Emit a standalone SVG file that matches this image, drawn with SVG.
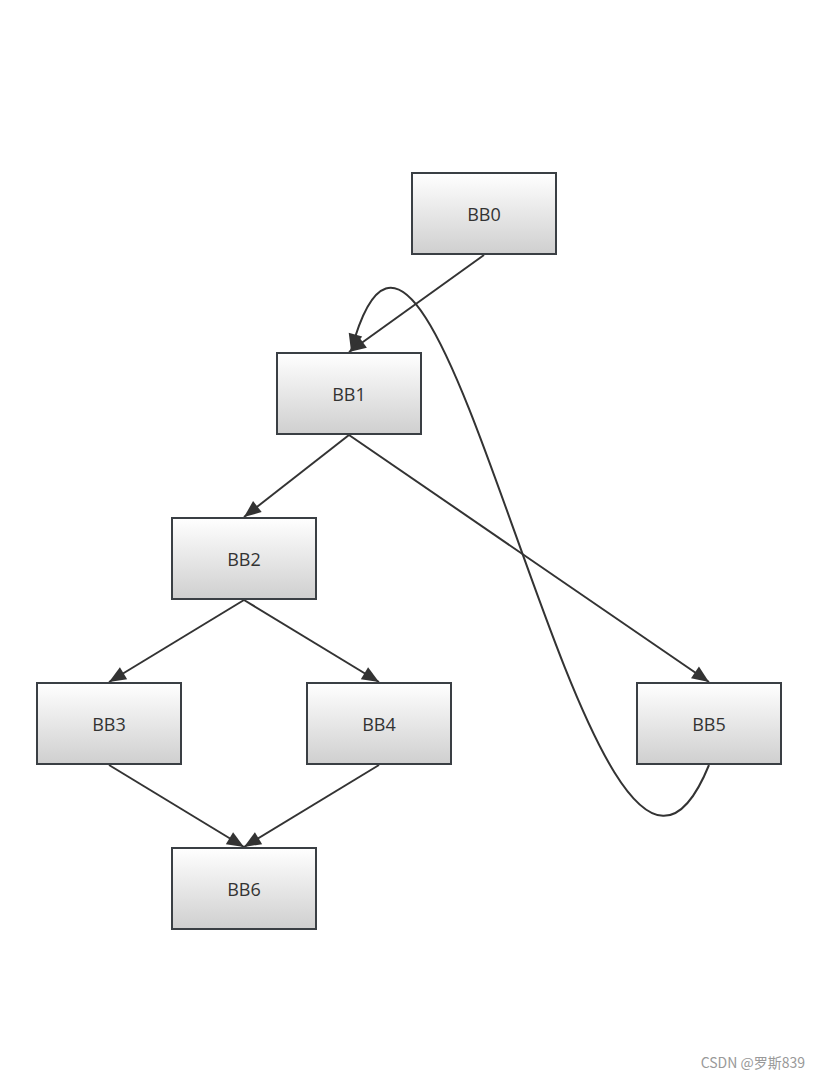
<svg xmlns="http://www.w3.org/2000/svg" width="819" height="1080" viewBox="0 0 819 1080">
<style>
.box{fill:url(#g);stroke:#3a3f44;stroke-width:2}
.lbl{font-family:"Open Sans","Noto Sans",sans-serif;font-size:18px;fill:#333;text-anchor:middle;dominant-baseline:central}
.e{fill:none;stroke:#333;stroke-width:2;marker-end:url(#a)}
</style>
<defs>
<linearGradient id="g" x1="0" y1="0" x2="0" y2="1"><stop offset="0" stop-color="#ffffff"/><stop offset="1" stop-color="#cfcfcf"/></linearGradient>
<marker id="a" markerUnits="userSpaceOnUse" markerWidth="20" markerHeight="20" refX="0" refY="0" orient="auto" style="overflow:visible"><path d="M-17,-7 L0,0 L-17,7 z" fill="#333"/></marker>
</defs>
<rect width="819" height="1080" fill="#fff"/>
<g id="connectors">
<path class="e" d="M484,255 L349,352"/>
<path class="e" d="M349,435 L244,517"/>
<path class="e" d="M349,435 L709,682"/>
<path class="e" d="M244,600 L109,682"/>
<path class="e" d="M244,600 L379,682"/>
<path class="e" d="M109,765 L244,847"/>
<path class="e" d="M379,765 L244,847"/>
<path class="e" d="M709,765 C593,1050 438,30 351,351"/>
</g>
<g id="BB0"><rect class="box" x="412" y="173" width="144" height="81"/><text class="lbl" x="484" y="214">BB0</text></g>
<g id="BB1"><rect class="box" x="277" y="353" width="144" height="81"/><text class="lbl" x="349" y="394">BB1</text></g>
<g id="BB2"><rect class="box" x="172" y="518" width="144" height="81"/><text class="lbl" x="244" y="559">BB2</text></g>
<g id="BB3"><rect class="box" x="37" y="683" width="144" height="81"/><text class="lbl" x="109" y="724">BB3</text></g>
<g id="BB4"><rect class="box" x="307" y="683" width="144" height="81"/><text class="lbl" x="379" y="724">BB4</text></g>
<g id="BB5"><rect class="box" x="637" y="683" width="144" height="81"/><text class="lbl" x="709" y="724">BB5</text></g>
<g id="BB6"><rect class="box" x="172" y="848" width="144" height="81"/><text class="lbl" x="244" y="889">BB6</text></g>
<text x="805" y="1068" text-anchor="end" font-family="'Noto Sans CJK SC','Liberation Sans',sans-serif" font-size="14" fill="#999">CSDN @罗斯839</text>
</svg>
